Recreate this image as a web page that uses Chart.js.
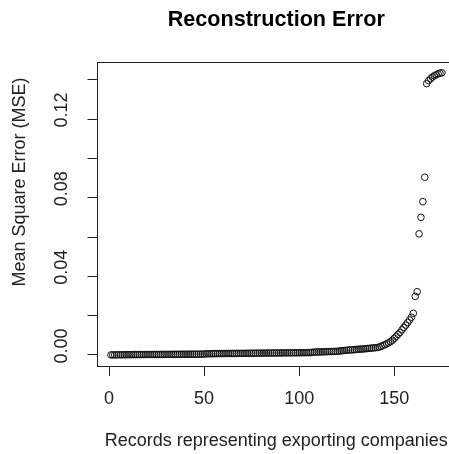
<!DOCTYPE html>
<html>
<head>
<meta charset="utf-8">
<script src="https://cdn.jsdelivr.net/npm/chart.js@4"></script>
<style>
html,body{margin:0;padding:0;background:#fff;overflow:hidden;}
canvas{display:block;}
</style>
</head>
<body>
<canvas id="c" width="470" height="454"></canvas>
<script>
const chartTitle = "Reconstruction Error";
const xAxisTitle = "Records representing exporting companies";
const yAxisTitle = "Mean Square Error (MSE)";

const xTickValues = [0, 50, 100, 150];
const yTickValues = [0, 0.02, 0.04, 0.06, 0.08, 0.10, 0.12, 0.14];
const yTickLabels = ["0.00", "", "0.04", "", "0.08", "", "0.12", ""];

// MSE per record, sorted ascending (records 1..175)
const mseValues = [
  0.00002, 0.00005, 0.00007, 0.00009, 0.0001, 0.00011, 0.00012, 0.00013, 0.00014, 0.00015,
  0.00016, 0.00017, 0.00018, 0.00019, 0.0002, 0.00021, 0.00022, 0.00022, 0.00023, 0.00024,
  0.00025, 0.00025, 0.00026, 0.00027, 0.00028, 0.00028, 0.00029, 0.0003, 0.0003, 0.00031,
  0.00032, 0.00032, 0.00033, 0.00034, 0.00034, 0.00035, 0.00036, 0.00036, 0.00037, 0.00038,
  0.00038, 0.00039, 0.0004, 0.0004, 0.00041, 0.00042, 0.00042, 0.00043, 0.00044, 0.00045,
  0.0006, 0.00062, 0.00064, 0.00066, 0.00068, 0.0007, 0.00071, 0.00072, 0.00073, 0.00074,
  0.00075, 0.00076, 0.00077, 0.00078, 0.00079, 0.0008, 0.00081, 0.00082, 0.00083, 0.00084,
  0.00085, 0.00086, 0.00087, 0.00088, 0.00089, 0.0009, 0.00091, 0.00092, 0.00093, 0.00094,
  0.00095, 0.00096, 0.00097, 0.00098, 0.00099, 0.001, 0.00101, 0.00102, 0.00103, 0.00104,
  0.00105, 0.00106, 0.00107, 0.00108, 0.00109, 0.0011, 0.00111, 0.00112, 0.00113, 0.00114,
  0.00115, 0.00116, 0.00117, 0.00118, 0.00119, 0.0012,
  0.0014, 0.00145, 0.0015, 0.00153, 0.00156, 0.0016, 0.00163, 0.00166, 0.0017, 0.00173,
  0.00176, 0.0018, 0.00183, 0.00186,
  0.002, 0.0021, 0.0022, 0.0023, 0.0024, 0.0025, 0.0026, 0.0026, 0.0027, 0.0028,
  0.0029, 0.003, 0.003, 0.0031, 0.0032, 0.0033, 0.0034, 0.0035, 0.0036, 0.0037,
  0.0038, 0.004,
  0.0044, 0.0048, 0.0052, 0.0057, 0.0062, 0.0068, 0.0075, 0.0085, 0.0095, 0.0105,
  0.0115, 0.0128, 0.014, 0.0152, 0.0165, 0.0178, 0.0192, 0.0212,
  0.0298, 0.0322, 0.0616, 0.0700, 0.0780, 0.0904,
  0.1380, 0.1395, 0.1405, 0.1413, 0.1420, 0.1425, 0.1430, 0.1433, 0.1435
];

const xRange = [-6.05, 181.9];
const yRange = [-0.0056, 0.1490];

const FONT = '"Liberation Sans", Arial, sans-serif';
const points = mseValues.map((v, i) => ({x: i + 1, y: v}));

// y-axis title, placed as in the reference (slightly above the plot's centre)
const yTitlePlugin = {
  id: 'yTitle',
  afterDraw(chart) {
    const {ctx, chartArea} = chart;
    ctx.save();
    ctx.translate(19.8, (chartArea.top + chartArea.bottom) / 2 - 32);
    ctx.rotate(-Math.PI / 2);
    ctx.font = '18px ' + FONT;
    ctx.fillStyle = '#222';
    ctx.textAlign = 'center';
    ctx.textBaseline = 'middle';
    ctx.fillText(yAxisTitle, 0, 0);
    ctx.restore();
  }
};

new Chart(document.getElementById('c'), {
  type: 'scatter',
  data: {
    datasets: [{
      data: points,
      showLine: false,
      pointStyle: 'circle',
      pointRadius: 3.3,
      pointHoverRadius: 3.3,
      borderWidth: 1,
      borderColor: '#111',
      backgroundColor: 'rgba(0,0,0,0)'
    }]
  },
  plugins: [yTitlePlugin],
  options: {
    responsive: false,
    animation: false,
    devicePixelRatio: 1,
    layout: {padding: {left: 0, top: 0, right: 15, bottom: 0}},
    plugins: {
      legend: {display: false},
      tooltip: {enabled: false},
      title: {
        display: true,
        text: chartTitle,
        fullSize: false,
        color: '#000',
        font: {family: FONT, size: 21.6, weight: 'bold', lineHeight: 1.2},
        padding: {top: 7, bottom: 0}
      }
    },
    scales: {
      x: {
        type: 'linear',
        position: 'bottom',
        min: xRange[0],
        max: xRange[1],
        afterBuildTicks: s => { s.ticks = xTickValues.map(v => ({value: v})); },
        afterFit: s => { s.height = 88; },
        grid: {display: true, drawOnChartArea: false, drawTicks: true, tickLength: 10, color: '#222', lineWidth: 1},
        border: {display: true, color: '#222', width: 1},
        ticks: {color: '#222', font: {family: FONT, size: 18}, padding: 12, maxRotation: 0, autoSkip: false,
                callback: v => String(v)},
        title: {display: true, text: xAxisTitle, color: '#222', font: {family: FONT, size: 18, lineHeight: 1.2}, padding: {top: 0, bottom: 2}}
      },
      xTop: {
        type: 'linear',
        position: 'top',
        min: xRange[0],
        max: xRange[1],
        afterFit: s => { s.height = 29.08; },
        grid: {display: false},
        border: {display: true, color: '#222', width: 1},
        ticks: {display: false}
      },
      y: {
        type: 'linear',
        position: 'left',
        min: yRange[0],
        max: yRange[1],
        afterBuildTicks: s => { s.ticks = yTickValues.map(v => ({value: v})); },
        afterFit: s => { s.width = 97.5; },
        grid: {display: true, drawOnChartArea: false, drawTicks: true, tickLength: 10, color: '#222', lineWidth: 1},
        border: {display: true, color: '#222', width: 1},
        ticks: {color: '#222', font: {family: FONT, size: 18}, padding: 8, minRotation: 90, maxRotation: 90,
                crossAlign: 'center', autoSkip: false, labelOffset: -9,
                callback: (v, i) => yTickLabels[i]},
        title: {display: false}
      }
    }
  }
});
</script>
</body>
</html>
